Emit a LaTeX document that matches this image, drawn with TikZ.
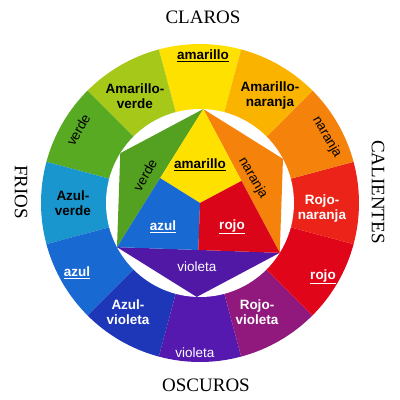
\documentclass[tikz,border=0pt]{standalone}
\usepackage{fontspec}
\setmainfont{Liberation Serif}
\newfontfamily\wheelfont{Liberation Sans}
\usetikzlibrary{calc}

\definecolor{amarillo}{RGB}{255,225,0}
\definecolor{amarverde}{RGB}{165,200,25}
\definecolor{verde}{RGB}{88,170,35}
\definecolor{azulverde}{RGB}{25,150,205}
\definecolor{azul}{RGB}{25,105,210}
\definecolor{azulvioleta}{RGB}{30,55,185}
\definecolor{violeta}{RGB}{85,25,175}
\definecolor{rojovioleta}{RGB}{145,25,125}
\definecolor{rojo}{RGB}{225,5,25}
\definecolor{rojonaranja}{RGB}{235,35,25}
\definecolor{naranja}{RGB}{245,130,10}
\definecolor{amarnaranja}{RGB}{250,180,0}
\tikzstyle{lbl} = [inner sep=0pt, align=center, font=\wheelfont\fontsize{13.5}{15}\selectfont]

\begin{document}
\begin{tikzpicture}[x=1pt,y=1pt,
		bold/.style={lbl,font=\wheelfont\bfseries\fontsize{13.5}{15}\selectfont},
		dark/.style={bold,text=black},
		light/.style={bold,text=white},
		plain/.style={lbl,text=black},
		pale/.style={lbl,text=white},
		side/.style={inner sep=0pt,font=\fontsize{19}{20}\selectfont}]
		\useasboundingbox (-200,-197) rectangle (200,203);
		% outer ring
		\fill[amarillo] (0,0) -- (75:159) arc[start angle=75,end angle=105,radius=159] -- cycle;
		\fill[amarverde] (0,0) -- (105:159) arc[start angle=105,end angle=135,radius=159] -- cycle;
		\fill[verde] (0,0) -- (135:159) arc[start angle=135,end angle=165,radius=159] -- cycle;
		\fill[azulverde] (0,0) -- (165:159) arc[start angle=165,end angle=195,radius=159] -- cycle;
		\fill[azul] (0,0) -- (195:159) arc[start angle=195,end angle=225,radius=159] -- cycle;
		\fill[azulvioleta] (0,0) -- (225:159) arc[start angle=225,end angle=255,radius=159] -- cycle;
		\fill[violeta] (0,0) -- (255:159) arc[start angle=255,end angle=285,radius=159] -- cycle;
		\fill[rojovioleta] (0,0) -- (285:159) arc[start angle=285,end angle=315,radius=159] -- cycle;
		\fill[rojo] (0,0) -- (315:159) arc[start angle=315,end angle=345,radius=159] -- cycle;
		\fill[rojonaranja] (0,0) -- (345:159) arc[start angle=345,end angle=375,radius=159] -- cycle;
		\fill[naranja] (0,0) -- (15:159) arc[start angle=15,end angle=45,radius=159] -- cycle;
		\fill[amarnaranja] (0,0) -- (45:159) arc[start angle=45,end angle=75,radius=159] -- cycle;
		\fill[white] (0,0) circle[radius=94];
		% inner hexagon
		\coordinate (t) at (88:94);
		\coordinate (ul) at (148:94);
		\coordinate (ll) at (208:94);
		\coordinate (b) at (268:94);
		\coordinate (lr) at (328:94);
		\coordinate (ur) at (28:94);
		\coordinate (c) at (0,0);
		\coordinate (p1) at ($(t)!0.5!(ll)$);
		\coordinate (p2) at ($(t)!0.5!(lr)$);
		\coordinate (m) at ($(ll)!0.5!(lr)$);
		\fill[verde!95!black] (t) -- (ul) -- (ll) -- cycle;
		\fill[naranja] (t) -- (ur) -- (lr) -- cycle;
		\fill[violeta!95!black] (ll) -- (b) -- (lr) -- cycle;
		\fill[amarillo] (t) -- (p1) -- (c) -- (p2) -- cycle;
		\fill[azul] (p1) -- (ll) -- (m) -- (c) -- cycle;
		\fill[rojo!97!black] (p2) -- (c) -- (m) -- (lr) -- cycle;
		% ring labels
		\node (o1) [dark] at (3,147) {\underline{amarillo}};
		\node (o2) [dark] at (-65,107) {Amarillo-\\verde};
		\node (o3) [plain,rotate=60] at (149:142) {verde};
		\node (o4) [dark] at (-127,0) {Azul-\\verde};
		\node (o5) [light] at (-123,-70) {\underline{azul}};
		\node (o6) [light] at (-72,-109) {Azul-\\violeta};
		\node (o7) [pale] at (-5,-150) {violeta};
		\node (o8) [light] at (57,-109) {Rojo-\\violeta};
		\node (o9) [light] at (123,-74) {\underline{rojo}};
		\node (o10) [light] at (122,-6) {Rojo-\\naranja};
		\node (o11) [plain,rotate=-60] at (127,66) {naranja};
		\node (o12) [dark] at (70,107) {Amarillo-\\naranja};
		% inner labels
		\node (i1) [dark] at (0,38) {\underline{amarillo}};
		\node (i2) [plain,rotate=60] at (-55,28) {verde};
		\node (i3) [plain,rotate=-60] at (53,25) {naranja};
		\node (i4) [light] at (-37,-24) {\underline{azul}};
		\node (i5) [light] at (32,-24) {\underline{rojo}};
		\node (i6) [pale] at (-3,-64) {violeta};
		% sides
		\node (claros) [side] at (3,186) {CLAROS};
		\node (frios) [side,rotate=-90] at (-179,11) {FRIOS};
		\node (calientes) [side,rotate=-90] at (178,11) {CALIENTES};
		\node (oscuros) [side] at (6,-182) {OSCUROS};
	\end{tikzpicture}
\end{document}
